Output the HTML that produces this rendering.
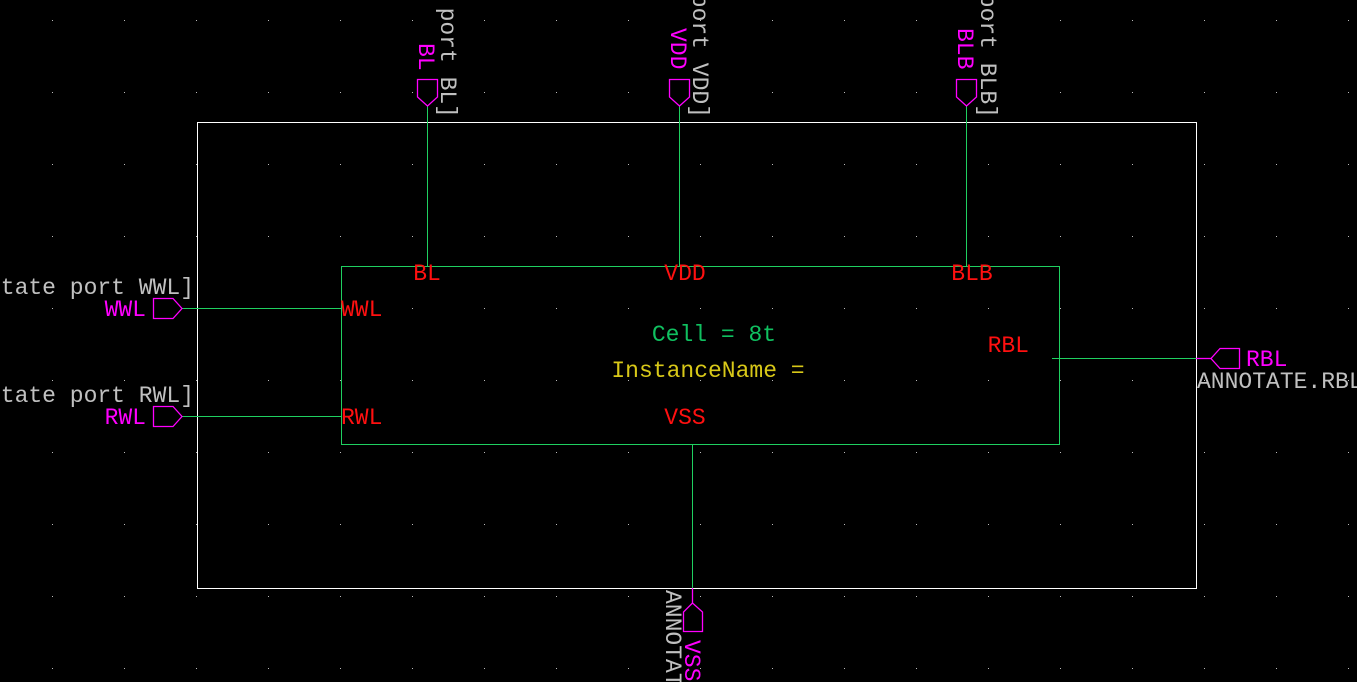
<!DOCTYPE html>
<html><head><meta charset="utf-8"><style>
html,body{margin:0;padding:0;background:#000;overflow:hidden;width:1357px;height:682px}
svg{display:block;overflow:hidden}
text{font-family:"Liberation Mono",monospace;font-size:23px}
.g{fill:#c0c0c0}.m{fill:#ff00ff}.r{fill:#ff1010}
</style></head><body>
<svg width="1357" height="682" viewBox="0 0 1357 682" shape-rendering="crispEdges">
<g id="grid"></g>
<rect x="197.5" y="122.5" width="999" height="466" fill="none" stroke="#fff" stroke-width="1"/>
<rect x="341.5" y="266.5" width="718" height="178" fill="none" stroke="#1fd060" stroke-width="1"/>
<g stroke="#1fd060" stroke-width="1" fill="none">
<line x1="427.5" y1="106" x2="427.5" y2="266"/>
<line x1="679.5" y1="106" x2="679.5" y2="266"/>
<line x1="966.5" y1="106" x2="966.5" y2="266"/>
<line x1="182" y1="308.5" x2="341" y2="308.5"/>
<line x1="182" y1="416.5" x2="341" y2="416.5"/>
<line x1="1052" y1="358.5" x2="1196" y2="358.5"/>
<line x1="692.5" y1="444" x2="692.5" y2="588"/>
</g>
<g stroke="#ff00ff" stroke-width="1.3" fill="none" shape-rendering="auto">
<path d="M417.5,79.5 H437.5 V97 L427.5,106 L417.5,97 Z"/>
<path d="M669.5,79.5 H689.5 V97 L679.5,106 L669.5,97 Z"/>
<path d="M956.5,79.5 H976.5 V97 L966.5,106 L956.5,97 Z"/>
<path d="M153.5,298.5 V318.5 H173 L182,308.5 L173,298.5 Z"/>
<path d="M153.5,406.5 V426.5 H173 L182,416.5 L173,406.5 Z"/>
<path d="M1239.5,348.5 V368.5 H1220 L1211,358.5 L1220,348.5 Z"/>
<line x1="1196" y1="358.5" x2="1211" y2="358.5"/>
<path d="M683.5,631.5 H702.5 V612 L692.5,603 L683.5,612 Z"/>
<line x1="692.5" y1="588" x2="692.5" y2="603"/>
</g>
<text class="g" transform="translate(441,118) rotate(90)" text-anchor="end">[annotate port BL]</text>
<text class="g" transform="translate(693,118) rotate(90)" text-anchor="end">[annotate port VDD]</text>
<text class="g" transform="translate(981,118) rotate(90)" text-anchor="end">[annotate port BLB]</text>
<text class="g" transform="translate(666,590) rotate(90)">ANNOTATE</text>
<text class="m" transform="translate(419,43) rotate(90)">BL</text>
<text class="m" transform="translate(671,28) rotate(90)">VDD</text>
<text class="m" transform="translate(958,28) rotate(90)">BLB</text>
<text class="m" transform="translate(685,640) rotate(90)">VSS</text>
<text class="g" x="194" y="294" text-anchor="end">[annotate port WWL]</text>
<text class="g" x="194" y="402" text-anchor="end">[annotate port RWL]</text>
<text class="m" x="146" y="316" text-anchor="end">WWL</text>
<text class="m" x="146" y="424" text-anchor="end">RWL</text>
<text class="m" x="1246" y="366">RBL</text>
<text class="g" x="1197" y="388">ANNOTATE.RBL</text>
<text class="r" x="427" y="280" text-anchor="middle">BL</text>
<text class="r" x="685" y="280" text-anchor="middle">VDD</text>
<text class="r" x="972" y="280" text-anchor="middle">BLB</text>
<text class="r" x="341" y="316">WWL</text>
<text class="r" x="341" y="424">RWL</text>
<text class="r" x="1029" y="352" text-anchor="end">RBL</text>
<text class="r" x="685" y="424" text-anchor="middle">VSS</text>
<text x="714" y="341" text-anchor="middle" fill="#10c060">Cell = 8t</text>
<text x="708" y="377" text-anchor="middle" fill="#d8c818">InstanceName =</text>
</svg>
<script>
const g=document.getElementById('grid');
for(let x=52;x<1357;x+=72){for(let y=20;y<682;y+=72){
const r=document.createElementNS('http://www.w3.org/2000/svg','rect');
r.setAttribute('x',x);r.setAttribute('y',y);r.setAttribute('width',1);r.setAttribute('height',1);r.setAttribute('fill','#bbb');


g.appendChild(r);}}
</script>
</body></html>
